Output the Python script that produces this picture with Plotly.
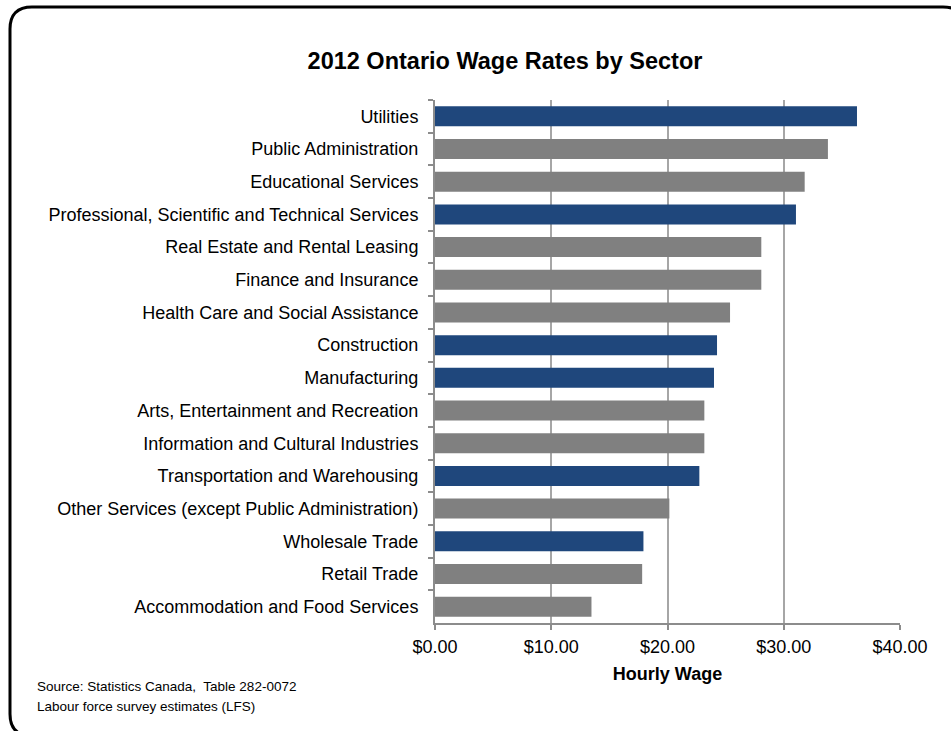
import plotly.graph_objects as go

# Average hourly wage by sector, Ontario 2012 (top to bottom)
sectors = [
    "Utilities",
    "Public Administration",
    "Educational Services",
    "Professional, Scientific and Technical Services",
    "Real Estate and Rental Leasing",
    "Finance and Insurance",
    "Health Care and Social Assistance",
    "Construction",
    "Manufacturing",
    "Arts, Entertainment and Recreation",
    "Information and Cultural Industries",
    "Transportation and Warehousing",
    "Other Services (except Public Administration)",
    "Wholesale Trade",
    "Retail Trade",
    "Accommodation and Food Services",
]
wages = [36.30, 33.80, 31.80, 31.05, 28.07, 28.07, 25.38, 24.26,
         24.00, 23.17, 23.17, 22.74, 20.16, 17.93, 17.82, 13.46]
highlighted = [True, False, False, True, False, False, False, True,
               True, False, False, True, False, True, False, False]
x_ticks = [0, 10, 20, 30, 40]
x_tick_labels = ["$0.00", "$10.00", "$20.00", "$30.00", "$40.00"]

BLUE = "#1F477C"
GRAY = "#808080"
AXIS = "#8C8C8C"

W, H = 951, 731
ML, MR, MT, MB = 435, 51, 100, 108
PW, PH = W - ML - MR, H - MT - MB

fig = go.Figure(
    go.Bar(
        x=wages,
        y=sectors,
        orientation="h",
        marker=dict(color=[BLUE if h else GRAY for h in highlighted], line=dict(width=0)),
        width=0.61,
        hoverinfo="x+y",
    )
)


def P(px, py):
    a, b = (px - ML) / PW, (H - MB - py) / PH
    return f"{a:.5f},{b:.5f}"


# Rounded frame around the whole chart
x0, y0, x1, y1, r = 10, 7, 965, 736, 22
path = (
    f"M {P(x0 + r, y0)} L {P(x1 - r, y0)} Q {P(x1, y0)} {P(x1, y0 + r)} "
    f"L {P(x1, y1 - r)} Q {P(x1, y1)} {P(x1 - r, y1)} "
    f"L {P(x0 + r, y1)} Q {P(x0, y1)} {P(x0, y1 - r)} "
    f"L {P(x0, y0 + r)} Q {P(x0, y0)} {P(x0 + r, y0)} Z"
)
fig.add_shape(type="path", path=path, xref="paper", yref="paper",
              line=dict(color="black", width=3), layer="above")

# Source note, bottom left
for txt, py in [("Source: Statistics Canada,  Table 282-0072", 686),
                ("Labour force survey estimates (LFS)", 706)]:
    fig.add_annotation(text=txt, x=(35 - ML) / PW, y=(H - MB - py) / PH,
                       xref="paper", yref="paper",
                       xanchor="left", yanchor="middle", showarrow=False,
                       font=dict(family="Liberation Sans, Arial", size=13.5, color="black"))

fig.update_layout(
    width=W, height=H,
    margin=dict(l=ML, r=MR, t=MT, b=MB),
    paper_bgcolor="white",
    plot_bgcolor="white",
    showlegend=False,
    font=dict(family="Liberation Sans, Arial, sans-serif", color="black"),
    title=dict(
        text="<b>2012 Ontario Wage Rates by Sector</b>",
        x=505 / W, xanchor="center",
        y=1 - 61 / H, yanchor="middle", yref="container",
        font=dict(size=23.5, color="black"),
    ),
    xaxis=dict(
        range=[0, 40],
        tickvals=x_ticks,
        ticktext=x_tick_labels,
        showgrid=True, gridcolor="#A6A6A6", gridwidth=1.5,
        showline=True, linecolor=AXIS, linewidth=2,
        ticks="outside", ticklen=5, tickcolor=AXIS, tickwidth=1.5,
        ticklabelstandoff=1,
        tickfont=dict(size=18),
        zeroline=False,
        title=dict(text="<b>Hourly Wage</b>", font=dict(size=18), standoff=12),
    ),
    yaxis=dict(
        autorange="reversed",
        showline=True, linecolor=AXIS, linewidth=2,
        ticks="outside", ticklen=5, tickcolor=AXIS, tickwidth=1.5,
        tickson="boundaries",
        ticklabelstandoff=11,
        tickfont=dict(size=18),
        showgrid=False,
    ),
)

fig.write_html("out.html")
